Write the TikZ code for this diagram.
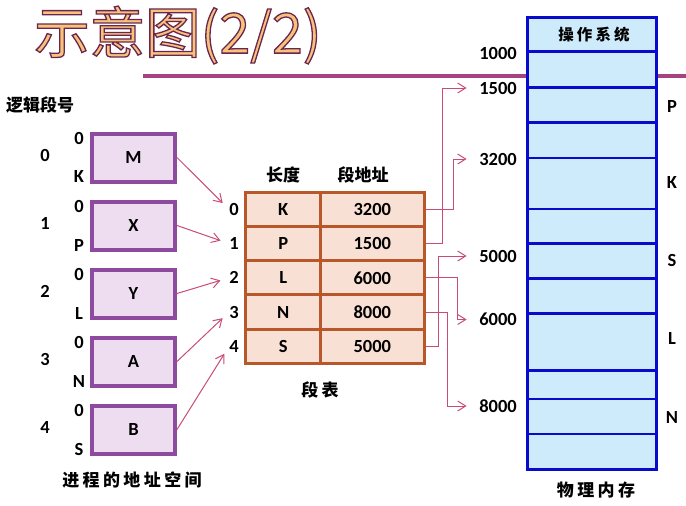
\documentclass[tikz,border=0pt]{standalone}
\usepackage{fontspec}
\setmainfont{Carlito}
\newfontfamily\cjk{Noto Sans CJK SC}
\newfontfamily\cjkw[LetterSpace=20]{Noto Sans CJK SC}
\usetikzlibrary{arrows.meta}
\definecolor{procfill}{HTML}{EEDDF0}
\definecolor{procdraw}{HTML}{8E4A9E}
\definecolor{tabfill}{HTML}{F9E0D5}
\definecolor{tabdraw}{HTML}{B8582A}
\definecolor{memfill}{HTML}{CDEBFB}
\definecolor{memdraw}{HTML}{0A0ACD}
\definecolor{arr}{HTML}{C94C74}
\definecolor{rulec}{HTML}{A8417F}
\definecolor{titlefill}{HTML}{F7C27A}
\begin{document}
\begin{tikzpicture}[x=1pt,y=-1pt,
  font=\fontsize{18.5}{20}\selectfont\bfseries,
  proc/.style={draw=procdraw, fill=procfill, line width=4pt, minimum width=83pt, minimum height=48pt, inner sep=0pt},
  cell/.style={draw=tabdraw, fill=tabfill, line width=3pt, minimum height=34.2pt, inner sep=0pt},
  lbl/.style={inner sep=0pt},
  zh/.style={inner sep=0pt, font=\cjk\bfseries\fontsize{17}{19}\selectfont},
  zhw/.style={inner sep=0pt, font=\cjkw\bfseries\fontsize{17}{19}\selectfont},
  conn/.style={draw=arr, line width=1pt, -{Straight Barb[length=8pt,width=10pt]}}]
\useasboundingbox (0,0) rectangle (686,506);
% title
\node[inner sep=0pt, anchor=west, font=\cjk\fontsize{55.5}{60}\selectfont] (title) at (34,35)
  {\textcolor{titlefill}{\special{pdf:literal direct 0.42 0.15 0.31 RG 1.3 w 2 Tr}示意图(2/2)\special{pdf:literal direct 0 Tr}}};
% rule
\draw[rulec, line width=4pt] (143,76.3) -- (686,76.3);
% memory
\draw[memdraw, fill=memfill, line width=3pt] (527.5,17) rectangle (656,469);
\foreach \yy in {51.7,87.3,122.7,158,209,243.7,278.3,313.3,370.7,399,434}
  \draw[memdraw, line width=2.5pt] (527.5,\yy) -- (656,\yy);
\node[zhw, font=\cjkw\bfseries\fontsize{15.5}{17}\selectfont] (os) at (594,35) {操作系统};
\node[zhw] (phys) at (596,490) {物理内存};
\node[lbl, anchor=east] (m1000) at (517,53) {1000};
\node[lbl, anchor=east] (m1500) at (517,88) {1500};
\node[lbl, anchor=east] (m3200) at (517,159) {3200};
\node[lbl, anchor=east] (m5000) at (517,256) {5000};
\node[lbl, anchor=east] (m6000) at (517,319.5) {6000};
\node[lbl, anchor=east] (m8000) at (517,406) {8000};
\node[lbl] (rP) at (672,107) {P};
\node[lbl] (rK) at (672,183) {K};
\node[lbl] (rS) at (672,260) {S};
\node[lbl] (rL) at (672,338) {L};
\node[lbl] (rN) at (672,417) {N};
% process
\node[zh] (logic) at (40,105) {逻辑段号};
\foreach \nm/\lt/\i in {M/K/0,X/P/1,Y/L/2,A/N/3,B/S/4}{
  \node[proc] (\nm) at (133.5,157.5+68*\i) {\nm};
  \node[lbl] (z\nm) at (79,157.5+68*\i-19.5) {0};
  \node[lbl] (e\nm) at (79,157.5+68*\i+19.5) {\lt};
  \node[lbl] (s\nm) at (45,155.5+68*\i) {\i};
}
\node[zhw] (space) at (132,480) {进程的地址空间};
% table
\node[zh] (hlen) at (283,175) {长度};
\node[zh] (haddr) at (363,175) {段地址};
\foreach \a/\b/\i in {K/3200/0,P/1500/1,L/6000/2,N/8000/3,S/5000/4}{
  \node[cell, minimum width=75pt] (c\i a) at (283.2,209.4+34.2*\i) {\a};
  \node[cell, minimum width=103.3pt] (c\i b) at (372.35,209.4+34.2*\i) {\b};
  \node[lbl] (i\i) at (234,209.4+34.2*\i) {\i};
}
\node[zhw] (tab) at (320,390) {段表};
% arrows process -> table
\draw[conn, shorten >=9pt] (M.east) -- (i0.west);
\draw[conn, shorten >=9pt] (X.east) -- (i1.west);
\draw[conn, shorten >=9pt] (Y.east) -- (i2.west);
\draw[conn, shorten >=9pt] (A.east) -- (i3.west);
\draw[conn, shorten >=9pt] (B.east) -- (i4.west);
% table -> memory
\draw[conn, shorten >=12.5pt] (c0b.east) -- ++(27.7,0) |- (m3200.west);
\draw[conn, shorten >=12.5pt] (c1b.east) -- ++(16.7,0) |- (m1500.west);
\draw[conn, shorten >=12.5pt] (c2b.east) -- ++(32,0) |- (m6000.west);
\draw[conn, shorten >=12.5pt] (c3b.east) -- ++(22,0) |- (m8000.west);
\draw[conn, shorten >=12.5pt] (c4b.east) -- ++(12.7,0) |- (m5000.west);
\end{tikzpicture}
\end{document}
